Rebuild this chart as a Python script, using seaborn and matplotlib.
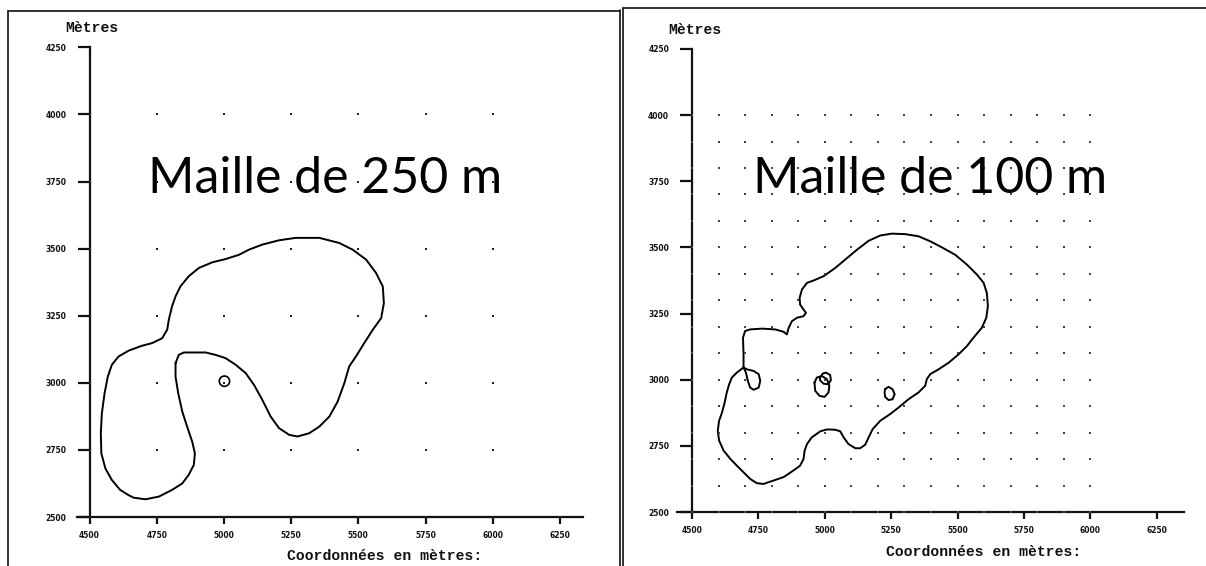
import numpy as np
import pandas as pd
import matplotlib
matplotlib.use("Agg")
import matplotlib.pyplot as plt
import seaborn as sns
from matplotlib.lines import Line2D

# ---------------- data ----------------
titles = ["Maille de 250 m", "Maille de 100 m"]
title_pos_x = [5376, 5396]
title_pos_y = 3707
y_label = "Mètres"
x_label = "Coordonnées en mètres:"

ticks_x = [4500, 4750, 5000, 5250, 5500, 5750, 6000, 6250]
ticks_y = [2500, 2750, 3000, 3250, 3500, 3750, 4000, 4250]

grid250_x = [4500, 4750, 5000, 5250, 5500, 5750, 6000]
grid250_y = [2500, 2750, 3000, 3250, 3500, 3750, 4000]
grid100_x = [4500, 4600, 4700, 4800, 4900, 5000, 5100, 5200, 5300, 5400,
             5500, 5600, 5700, 5800, 5900, 6000]
grid100_y = [2500, 2600, 2700, 2800, 2900, 3000, 3100, 3200, 3300, 3400,
             3500, 3600, 3700, 3800, 3900, 4000]

# 250 m mesh contour
c250_x = [4820, 4832, 4851, 4932, 4969, 5006, 5044, 5081, 5112, 5143, 5174, 5205,
          5243, 5274, 5317, 5355, 5392, 5423, 5448, 5466, 5491, 5522, 5554, 5585,
          5595, 5591, 5566, 5529, 5479, 5429, 5355, 5267, 5205, 5143, 5093, 5056,
          5006, 4957, 4907, 4869, 4838, 4820, 4807, 4795, 4789, 4770, 4733, 4695,
          4646, 4608, 4583, 4568, 4556, 4546, 4542, 4544, 4559, 4583, 4614, 4646,
          4664, 4708, 4758, 4807, 4845, 4869, 4888, 4892, 4882, 4863, 4845, 4830,
          4820, 4820]
c250_y = [3073, 3104, 3113, 3113, 3104, 3092, 3067, 3036, 2992, 2936, 2874, 2831,
          2806, 2800, 2812, 2837, 2874, 2930, 2999, 3061, 3098, 3148, 3198, 3241,
          3297, 3359, 3409, 3459, 3496, 3521, 3540, 3540, 3531, 3515, 3496, 3477,
          3461, 3449, 3428, 3397, 3359, 3322, 3285, 3235, 3198, 3166, 3148, 3138,
          3120, 3098, 3067, 3023, 2961, 2887, 2812, 2737, 2681, 2638, 2601, 2581,
          2572, 2566, 2576, 2601, 2625, 2657, 2694, 2737, 2781, 2837, 2893, 2961,
          3023, 3073]
c250_ring_x = [5002]
c250_ring_y = [3006]

# 100 m mesh contours
c100_outer_x = [4694, 4694, 4692, 4700, 4719, 4763, 4813, 4845, 4857, 4864, 4876, 4895,
                4920, 4929, 4920, 4907, 4905, 4914, 4933, 4958, 4995, 5039, 5077, 5121,
                5165, 5209, 5253, 5303, 5353, 5397, 5441, 5491, 5535, 5573, 5598, 5610,
                5614, 5608, 5591, 5560, 5535, 5504, 5466, 5428, 5397, 5384, 5378, 5353,
                5315, 5278, 5246, 5209, 5180, 5165, 5152, 5133, 5115, 5089, 5071, 5058,
                5039, 5008, 4983, 4951, 4933, 4924, 4920, 4907, 4882, 4845, 4807, 4769,
                4744, 4719, 4694, 4669, 4644, 4619, 4602, 4597, 4602, 4613, 4623, 4631,
                4640, 4650, 4669, 4694]
c100_outer_y = [3046, 3096, 3159, 3184, 3190, 3193, 3190, 3181, 3171, 3196, 3221, 3234,
                3240, 3253, 3265, 3284, 3309, 3341, 3366, 3375, 3391, 3422, 3454, 3491,
                3525, 3545, 3552, 3550, 3542, 3523, 3500, 3472, 3435, 3397, 3366, 3328,
                3278, 3234, 3196, 3159, 3127, 3096, 3064, 3039, 3021, 3002, 2977, 2952,
                2926, 2895, 2870, 2845, 2813, 2782, 2754, 2741, 2741, 2757, 2782, 2805,
                2811, 2812, 2805, 2782, 2757, 2732, 2701, 2675, 2657, 2632, 2619, 2606,
                2609, 2625, 2650, 2675, 2701, 2732, 2770, 2807, 2845, 2876, 2914, 2952,
                2983, 3008, 3027, 3046]
c100_loop_x = [4694, 4707, 4732, 4751, 4757, 4751, 4732, 4719, 4710, 4703, 4694]
c100_loop_y = [3046, 3039, 3033, 3021, 2996, 2970, 2962, 2970, 2996, 3027, 3046]
c100_mid_x = [4961, 4970, 4989, 5008, 5017, 5014, 4999, 4980, 4964, 4961]
c100_mid_y = [2989, 3008, 3014, 3002, 2977, 2952, 2935, 2939, 2958, 2989]
c100_small_x = [4982, 4992, 5004, 5020, 5023, 5012, 4995, 4982, 4982]
c100_small_y = [3008, 3023, 3027, 3018, 2998, 2983, 2985, 2998, 3008]
c100_east_x = [5227, 5240, 5255, 5263, 5255, 5240, 5227, 5225, 5227]
c100_east_y = [2964, 2973, 2964, 2945, 2926, 2923, 2935, 2952, 2964]

# ---------------- figure ----------------
sns.set_style("white")
W, H = 1206, 566
fig = plt.figure(figsize=(W / 100, H / 100), dpi=100)
fig.patch.set_facecolor("white")


def px_axes(l, t, r, b):
    return fig.add_axes([l / W, 1 - b / H, (r - l) / W, (b - t) / H])


def ftext(x, y, s, **kw):
    fig.text(x / W, 1 - y / H, s, **kw)


def style_axes(ax, xlim, ylim):
    ax.set_facecolor("none")
    ax.set_xlim(*xlim)
    ax.set_ylim(*ylim)
    for s in ("top", "right"):
        ax.spines[s].set_visible(False)
    ax.spines["left"].set_position(("data", 4500))
    ax.spines["left"].set_bounds(2500, 4250)
    ax.spines["bottom"].set_position(("data", 2500))
    ax.spines["bottom"].set_bounds(xlim[0] + 63, xlim[1] - 62)
    for s in ("left", "bottom"):
        ax.spines[s].set_linewidth(1.6)
        ax.spines[s].set_color("#111")
    ax.set_xticks(ticks_x)
    ax.set_yticks(ticks_y)
    ax.set_xticklabels([str(v) for v in ticks_x])
    ax.set_yticklabels([str(v) for v in ticks_y])
    ax.tick_params(axis="y", direction="out", length=8.5, width=1.6, pad=8,
                   colors="#111", labelsize=5.5, left=True)
    ax.tick_params(axis="x", direction="out", length=5, width=1.6, pad=5,
                   colors="#111", labelsize=5.5, bottom=True)
    for lab in ax.get_xticklabels() + ax.get_yticklabels():
        lab.set_fontweight("bold")
        lab.set_family("DejaVu Sans")
    ax.set_xlabel("")
    ax.set_ylabel("")


# ---- left panel : 250 m mesh ----
ax1 = px_axes(60, 30, 600, 525)
gx, gy = np.meshgrid(grid250_x, grid250_y)
sns.scatterplot(x=gx.ravel(), y=gy.ravel(), marker="s", s=2.2, color="#222",
                linewidth=0, ax=ax1, zorder=3)
df1 = pd.DataFrame({"x": c250_x, "y": c250_y, "piece": "outer"})
sns.lineplot(data=df1, x="x", y="y", units="piece", estimator=None, sort=False,
             color="black", linewidth=1.4, ax=ax1, legend=False)
sns.scatterplot(x=c250_ring_x, y=c250_ring_y, marker="o", s=55, facecolor="none",
                edgecolor="black", linewidth=1.2, ax=ax1, zorder=4)
style_axes(ax1, (4390.2, 6399.0), (2470.2, 4314.5))

# ---- right panel : 100 m mesh ----
ax2 = px_axes(660, 30, 1200, 525)
gx, gy = np.meshgrid(grid100_x, grid100_y)
sns.scatterplot(x=gx.ravel(), y=gy.ravel(), marker="s", s=1.6, color="#444",
                linewidth=0, ax=ax2, zorder=3)
pieces = [("outer", c100_outer_x, c100_outer_y), ("loop", c100_loop_x, c100_loop_y),
          ("mid", c100_mid_x, c100_mid_y), ("small", c100_small_x, c100_small_y),
          ("east", c100_east_x, c100_east_y)]
df2 = pd.concat([pd.DataFrame({"x": px, "y": py, "piece": n}) for n, px, py in pieces],
                ignore_index=True)
sns.lineplot(data=df2, x="x", y="y", units="piece", estimator=None, sort=False,
             color="black", linewidth=1.4, ax=ax2, legend=False)
style_axes(ax2, (4379.5, 6412.6), (2450.9, 4321.5))

# titles (large thin font)
for ax, t, tx in ((ax1, titles[0], title_pos_x[0]), (ax2, titles[1], title_pos_x[1])):
    ax.text(tx, title_pos_y, t, ha="center", va="baseline", fontsize=36,
            family=["Lato", "DejaVu Sans"], fontweight="normal", color="black",
            zorder=5)

# axis captions
mono = dict(family=["Liberation Mono", "DejaVu Sans Mono"], fontweight="bold",
            fontsize=10.6, color="#111", ha="center", va="center")
ftext(91.5, 28, y_label, **mono)
ftext(695, 30, y_label, **mono)
ftext(385, 556, x_label, **mono)
ftext(984, 552, x_label, **mono)


# panel frames
def fline(xs, ys, lw=1.3):
    fig.add_artist(Line2D([x / W for x in xs], [1 - y / H for y in ys],
                          transform=fig.transFigure, color="#222", linewidth=lw))


fline([8, 8], [11, 566])
fline([8, 620], [11, 11])
fline([620, 620], [10, 566])
fline([623, 623], [8, 566])
fline([623, 1206], [8, 8])

fig.savefig("out.png", dpi=100, facecolor="white")
